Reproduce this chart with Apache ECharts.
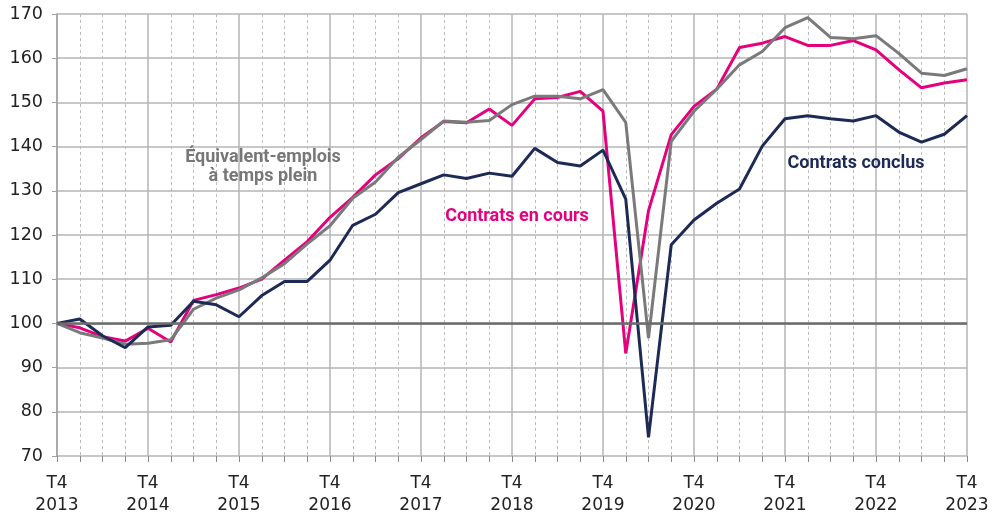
<!DOCTYPE html>
<html>
<head>
<meta charset="utf-8">
<script src="https://cdn.jsdelivr.net/npm/echarts@6/dist/echarts.min.js"></script>
<style>
  html, body { margin: 0; padding: 0; background: #fff; }
  #chart { width: 994px; height: 517px; }
</style>
</head>
<body>
<div id="chart"></div>
<script>
// trimestres, de T4 2013 à T4 2023
const quarters = [
  'T4 2013', 'T1 2014', 'T2 2014', 'T3 2014', 'T4 2014', 'T1 2015', 'T2 2015', 'T3 2015',
  'T4 2015', 'T1 2016', 'T2 2016', 'T3 2016', 'T4 2016', 'T1 2017', 'T2 2017', 'T3 2017',
  'T4 2017', 'T1 2018', 'T2 2018', 'T3 2018', 'T4 2018', 'T1 2019', 'T2 2019', 'T3 2019',
  'T4 2019', 'T1 2020', 'T2 2020', 'T3 2020', 'T4 2020', 'T1 2021', 'T2 2021', 'T3 2021',
  'T4 2021', 'T1 2022', 'T2 2022', 'T3 2022', 'T4 2022', 'T1 2023', 'T2 2023', 'T3 2023',
  'T4 2023'
]

// indices base 100 au T4 2013
const contratsEnCours = [
  100, 99.0, 97.0, 96.0, 98.9, 95.8, 105.2, 106.5, 108.0, 110.0, 114.3, 118.5, 124.0,
  128.5, 133.6, 137.3, 142.0, 145.7, 145.4, 148.5, 144.8, 150.8, 151.1, 152.5, 148.0,
  93.2, 125.5, 142.7, 149.1, 153.0, 162.4, 163.4, 164.9, 162.9, 162.9, 164.0, 161.9,
  157.4, 153.3, 154.4, 155.1
]
const equivalentEmplois = [
  100, 97.9, 96.7, 95.3, 95.5, 96.3, 103.2, 105.7, 107.6, 110.3, 113.5, 118.0, 122.1,
  128.3, 132.0, 137.6, 141.6, 145.8, 145.5, 145.9, 149.5, 151.4, 151.4, 150.8, 152.9,
  145.5, 96.7, 141.2, 148.0, 153.0, 158.5, 161.5, 166.9, 169.2, 164.7, 164.4, 165.1,
  161.1, 156.6, 156.1, 157.6
]
const contratsConclus = [
  100, 101.0, 97.2, 94.5, 99.2, 99.6, 105.0, 104.2, 101.5, 106.3, 109.5, 109.5, 114.3,
  122.2, 124.7, 129.6, 131.6, 133.6, 132.8, 134.0, 133.3, 139.6, 136.4, 135.6, 139.2,
  128.1, 74.2, 117.8, 123.4, 127.2, 130.4, 140.1, 146.3, 147.0, 146.3, 145.8, 147.0,
  143.3, 141.0, 142.8, 147.0
]
const yMin = 70
const yMax = 170
const yStep = 10
const baseLevel = 100

const PINK = '#e5007d'
const NAVY = '#1d2a55'
const GREY = '#7a7a7a'
const GRID = '#b4b4b4'
const labelFont = 'DejaVu Sans'
const noteFont = 'Roboto'

const chart = echarts.init(document.getElementById('chart'))

const isYear = (idx) => idx % 4 === 0

const option = {
  animation: false,
  grid: { left: 57, right: 27, top: 14, bottom: 59 },
  xAxis: [
    {
      // grille trimestrielle en pointillés + graduations
      type: 'category',
      data: quarters,
      boundaryGap: false,
      axisLine: { show: false },
      axisTick: {
        show: true, interval: 0, length: 6,
        lineStyle: { color: '#8a8a8a', width: 1 }
      },
      axisLabel: {
        interval: (idx) => isYear(idx),
        formatter: (v) => v.replace(' ', '\n'),
        fontFamily: labelFont, fontSize: 17, color: '#222',
        lineHeight: 22, margin: 17
      },
      splitLine: {
        show: true,
        interval: (idx) => !isYear(idx),
        lineStyle: { color: '#bcbcbc', width: 1, type: [3, 3] }
      }
    },
    {
      // lignes pleines aux T4
      type: 'category',
      data: quarters,
      boundaryGap: false,
      position: 'bottom',
      axisLine: { show: false },
      axisTick: { show: false },
      axisLabel: { show: false },
      splitLine: {
        show: true,
        interval: (idx) => isYear(idx),
        lineStyle: { color: GRID, width: 1.5 }
      }
    }
  ],
  yAxis: {
    type: 'value',
    min: yMin,
    max: yMax,
    interval: yStep,
    axisLine: { show: true, lineStyle: { color: '#a0a0a0', width: 1.5 } },
    axisTick: { show: true, length: 5, lineStyle: { color: '#a0a0a0' } },
    axisLabel: { fontFamily: labelFont, fontSize: 17.5, color: '#222', margin: 14 },
    splitLine: { show: true, lineStyle: { color: GRID, width: 1.5 } }
  },
  series: [
    {
      name: 'Équivalent-emplois à temps plein',
      type: 'line',
      data: equivalentEmplois,
      symbol: 'none',
      lineStyle: { color: GREY, width: 3 },
      z: 3,
      markLine: {
        silent: true,
        symbol: 'none',
        label: { show: false },
        lineStyle: { color: '#6b6b6b', width: 2.5, type: 'solid' },
        data: [{ yAxis: baseLevel }]
      }
    },
    {
      name: 'Contrats en cours',
      type: 'line',
      data: contratsEnCours,
      symbol: 'none',
      lineStyle: { color: PINK, width: 3 },
      z: 2
    },
    {
      name: 'Contrats conclus',
      type: 'line',
      data: contratsConclus,
      symbol: 'none',
      lineStyle: { color: NAVY, width: 3 },
      z: 4
    }
  ],
  graphic: [
    {
      type: 'text', z: 10,
      style: {
        text: 'Équivalent-emplois\nà temps plein', x: 263, y: 167,
        align: 'center', verticalAlign: 'middle',
        fill: '#777', font: 'bold 18px ' + noteFont, lineHeight: 19
      }
    },
    {
      type: 'text', z: 10,
      style: {
        text: 'Contrats en cours', x: 517, y: 216,
        align: 'center', verticalAlign: 'middle',
        fill: PINK, font: 'bold 18px ' + noteFont
      }
    },
    {
      type: 'text', z: 10,
      style: {
        text: 'Contrats conclus', x: 856, y: 163,
        align: 'center', verticalAlign: 'middle',
        fill: NAVY, font: 'bold 18px ' + noteFont
      }
    }
  ]
}

chart.setOption(option)
</script>
</body>
</html>
